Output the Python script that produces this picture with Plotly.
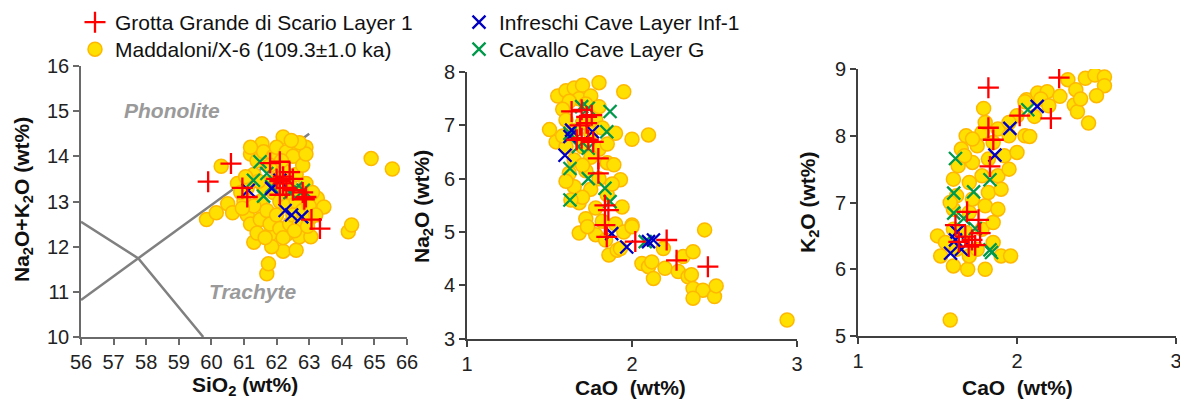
import plotly.graph_objects as go

# ---------------- Panel 1: TAS (SiO2 vs Na2O+K2O) ----------------
p1_mad_sio2 = [59.85, 60.15, 60.5, 60.65, 60.3, 60.8, 61.3, 61.7, 61.75, 62.2, 62.6, 61.8, 62.3, 62.7, 63.05,
               63.25, 63.45, 64.2, 64.3, 64.9, 65.55, 62.2, 61.55, 62.9, 62.6, 61.2,
               61.0, 61.1, 61.2, 61.3, 61.4, 61.5, 61.5, 61.6, 61.7, 61.7, 61.8, 61.9, 61.9, 62.0, 62.0,
               62.1, 62.1, 62.2, 62.3, 62.3, 62.4, 62.4, 62.5, 62.5, 62.6, 62.6, 62.7, 62.8, 62.8, 62.9,
               63.0, 63.0, 63.1, 62.9, 61.3, 61.4, 61.6, 61.8, 62.0, 62.2, 62.7, 61.2, 62.45, 61.85,
               62.55, 61.45, 62.95, 63.2, 61.1, 62.15, 61.65, 62.35, 62.75, 60.95, 61.05, 60.9]
p1_mad_tot = [12.6, 12.75, 12.95, 12.75, 13.78, 13.4, 12.1, 11.4, 11.62, 11.9, 11.92, 12.27, 12.27, 12.22, 12.22,
              13.07, 12.88, 12.33, 12.48, 13.95, 13.72, 14.43, 14.28, 14.2, 14.1, 14.05,
              13.0, 12.7, 12.5, 13.6, 13.9, 13.0, 12.6, 14.1, 13.4, 12.8, 12.5, 14.0, 13.2, 12.7, 14.2,
              13.0, 12.4, 13.7, 14.1, 12.9, 12.5, 13.4, 14.0, 12.7, 13.6, 13.0, 12.5, 13.8, 12.8, 13.4,
              12.9, 12.6, 13.2, 14.05, 12.9, 12.3, 13.3, 13.8, 13.5, 12.2, 14.3, 14.2, 14.35, 12.0,
              12.35, 13.45, 12.45, 12.7, 13.3, 13.9, 12.2, 13.2, 13.2, 12.85, 13.55, 13.2]
p1_ggs_sio2 = [59.9, 60.6, 60.95, 61.1, 61.8, 62.1, 62.0, 62.1, 62.2, 62.4, 62.5, 62.3, 62.1, 62.8, 62.85,
               62.9, 63.07, 63.33, 62.5, 62.2]
p1_ggs_tot = [13.44, 13.84, 13.3, 13.1, 13.85, 13.88, 13.5, 13.45, 13.4, 13.65, 13.5, 13.3, 13.15, 13.2, 13.05,
              13.1, 12.6, 12.4, 13.25, 13.55]
p1_inf_sio2 = [61.13, 61.85, 62.26, 62.46, 62.77, 62.1]
p1_inf_tot = [13.25, 13.29, 12.8, 12.7, 12.66, 13.47]
p1_cav_sio2 = [61.49, 61.29, 61.6, 61.85, 61.7, 62.41, 62.6, 62.82]
p1_cav_tot = [13.88, 13.47, 13.12, 13.33, 13.62, 13.2, 13.29, 13.25]

# TAS field boundaries
tas_a_sio2 = [56.0, 63.0]
tas_a_tot = [10.82, 14.5]
tas_b_sio2 = [56.0, 57.76, 59.75]
tas_b_tot = [12.55, 11.74, 10.0]

# ---------------- Panel 2: CaO vs Na2O ----------------
p2_mad_cao = [1.55, 1.6, 1.65, 1.7, 1.8, 1.95, 1.68, 1.75, 1.62, 1.72, 1.58, 1.8, 1.5, 1.54, 2.0, 2.1,
              1.6, 1.7, 1.78, 1.65, 1.75, 1.82, 1.6, 1.7, 1.8, 1.65, 1.75, 1.85, 1.62, 1.72, 1.8, 1.89,
              1.93, 1.65, 1.75, 1.85, 1.68, 1.78, 1.94, 1.72, 1.82, 1.9, 2.0, 1.68, 1.78, 1.86, 1.91,
              1.95, 2.0, 1.93, 2.06, 2.1, 2.12, 2.13, 2.19, 2.2, 2.28, 2.31, 2.34, 2.37, 2.36, 2.44,
              2.37, 2.43, 2.5, 2.51, 2.37, 2.94, 1.7, 1.6, 1.7, 1.88, 1.84, 1.73, 1.63, 1.58, 1.85, 1.9]
p2_mad_na2o = [7.55, 7.65, 7.7, 7.75, 7.8, 7.63, 7.5, 7.55, 7.45, 7.4, 7.3, 7.35, 6.92, 6.69, 6.74, 6.82,
               7.1, 7.05, 7.1, 6.9, 6.85, 6.95, 6.6, 6.6, 6.55, 6.35, 6.4, 6.3, 6.1, 6.15, 6.0, 6.26,
               5.98, 5.85, 5.8, 5.7, 5.55, 5.45, 5.47, 5.25, 5.2, 5.15, 5.13, 4.98, 4.95, 4.57, 4.66,
               5.0, 5.1, 4.69, 4.41, 4.35, 4.44, 4.13, 4.69, 4.32, 4.26, 4.54, 4.16, 4.63, 4.2, 5.04,
               3.94, 3.91, 3.79, 3.99, 3.76, 3.35, 6.25, 5.95, 5.65, 5.9, 4.85, 5.1, 5.6, 6.8, 6.65, 6.85]
p2_ggs_cao = [1.634, 1.695, 1.725, 1.756, 1.685, 1.725, 1.695, 1.735, 1.765, 1.665, 1.796, 1.796, 1.836,
              1.857, 1.836, 1.847, 2.02, 2.21, 2.27, 2.46]
p2_ggs_na2o = [7.26, 7.29, 7.16, 7.19, 7.0, 7.04, 6.76, 6.73, 6.69, 6.73, 6.38, 6.1, 5.5, 5.41, 5.13, 4.91,
               4.82, 4.85, 4.47, 4.35]
p2_inf_cao = [1.634, 1.624, 1.594, 1.76, 1.877, 1.968, 2.1, 2.13]
p2_inf_na2o = [6.91, 6.79, 6.44, 6.88, 4.97, 4.72, 4.82, 4.85]
p2_cav_cao = [1.695, 1.735, 1.867, 1.624, 1.735, 1.847, 1.624, 1.735, 1.836, 1.867, 1.624, 1.675, 2.08]
p2_cav_na2o = [7.35, 7.32, 7.26, 6.85, 6.57, 6.88, 6.19, 6.0, 5.82, 5.57, 5.6, 6.6, 4.82]

# ---------------- Panel 3: CaO vs K2O ----------------
p3_mad_cao = [1.5, 1.52, 1.6, 1.69, 1.8, 1.58, 1.55, 1.62, 1.7, 1.75, 1.85, 1.9, 1.6, 1.68, 1.78, 1.85,
              1.6, 1.7, 1.8, 1.88, 1.62, 1.72, 1.82, 1.6, 1.7, 1.78, 1.88, 1.95, 1.63, 1.72, 1.82, 1.92,
              2.0, 1.65, 1.75, 1.85, 1.68, 1.78, 1.88, 1.95, 1.72, 1.8, 1.79, 2.05, 2.06, 2.13, 2.19,
              2.27, 2.32, 2.37, 2.43, 2.49, 2.36, 2.38, 2.45, 2.08, 2.11, 2.05, 2.55, 2.55, 2.5, 2.4,
              2.15, 2.2, 2.0, 1.95, 1.9, 1.96, 1.67, 1.58]
p3_mad_k2o = [6.5, 6.2, 6.05, 6.0, 6.0, 5.24, 6.4, 6.3, 6.2, 6.3, 6.4, 6.2, 6.6, 6.55, 6.6, 6.7,
              6.9, 6.85, 6.95, 6.9, 7.1, 7.05, 7.15, 7.35, 7.3, 7.4, 7.4, 7.5, 7.55, 7.6, 7.65, 7.7,
              7.75, 7.8, 7.85, 7.9, 8.0, 8.05, 8.1, 8.0, 7.95, 8.2, 8.41, 8.0, 8.54, 8.64, 8.66,
              8.59, 8.84, 8.69, 8.86, 8.91, 8.46, 8.36, 8.19, 7.99, 8.29, 8.51, 8.88, 8.75, 8.6, 8.55,
              8.55, 8.45, 8.3, 8.2, 7.2, 6.2, 7.7, 7.0]
p3_ggs_cao = [1.82, 2.265, 2.213, 2.017, 1.82, 1.851, 1.83, 1.686, 1.758, 1.613, 1.675, 1.717, 1.634,
              1.696, 1.768, 1.737]
p3_ggs_k2o = [8.72, 8.87, 8.26, 8.3, 8.12, 7.94, 7.54, 6.86, 6.74, 6.66, 6.49, 6.44, 6.41, 6.34, 6.54, 6.36]
p3_inf_cao = [2.127, 1.955, 1.861, 1.582, 1.613, 1.623, 1.65]
p3_inf_k2o = [8.44, 8.11, 7.71, 6.24, 6.44, 6.56, 6.3]
p3_cav_cao = [1.613, 1.602, 1.727, 1.83, 2.068, 1.602, 1.665, 1.737, 1.83, 1.84]
p3_cav_k2o = [7.66, 7.14, 7.16, 7.34, 8.39, 6.84, 6.76, 6.61, 6.29, 6.25]

# ---------------- styling ----------------
FONT = "Arial, Liberation Sans, sans-serif"
YEL = dict(symbol="circle", size=14, color="#FFE000", line=dict(color="#FFB800", width=1.5))
RED = dict(symbol="cross-thin", size=15, color="#FF0000", line=dict(color="#FF0000", width=2.3))
BLUE = dict(symbol="x-thin", size=13, color="#0000C0", line=dict(color="#0000C0", width=2.3))
GREEN = dict(symbol="x-thin", size=13, color="#00994C", line=dict(color="#00994C", width=2.3))

NAMES = ["Maddaloni/X-6 (109.3±1.0 ka)", "Cavallo Cave Layer G",
         "Infreschi Cave Layer Inf-1", "Grotta Grande di Scario Layer 1"]
LEGENDS = ["legend2", "legend4", "legend3", "legend"]
STYLES = [YEL, GREEN, BLUE, RED]

# page offset (browser body margin) and figure size
OX, OY = 8, 8
W, H = 1180, 395

def fx(a, b):
    return [(a - OX) / W, (b - OX) / W]
def fy(top, bottom):
    return [1 - (bottom - OY) / H, 1 - (top - OY) / H]
def px(x):
    return (x - OX) / W
def py(y):
    return 1 - (y - OY) / H

fig = go.Figure()

# TAS lines
for xs, ys in [(tas_a_sio2, tas_a_tot), (tas_b_sio2, tas_b_tot)]:
    fig.add_trace(go.Scatter(x=xs, y=ys, mode="lines", line=dict(color="#808080", width=2.5),
                             showlegend=False, hoverinfo="skip", xaxis="x", yaxis="y"))

panels = [
    ("x", "y", [(p1_mad_sio2, p1_mad_tot), (p1_cav_sio2, p1_cav_tot), (p1_inf_sio2, p1_inf_tot), (p1_ggs_sio2, p1_ggs_tot)]),
    ("x2", "y2", [(p2_mad_cao, p2_mad_na2o), (p2_cav_cao, p2_cav_na2o), (p2_inf_cao, p2_inf_na2o), (p2_ggs_cao, p2_ggs_na2o)]),
    ("x3", "y3", [(p3_mad_cao, p3_mad_k2o), (p3_cav_cao, p3_cav_k2o), (p3_inf_cao, p3_inf_k2o), (p3_ggs_cao, p3_ggs_k2o)]),
]
for pi, (xa, ya, series) in enumerate(panels):
    for si, (xs, ys) in enumerate(series):
        fig.add_trace(go.Scatter(
            x=xs, y=ys, mode="markers", marker=STYLES[si], name=NAMES[si],
            showlegend=(pi == 0), legend=LEGENDS[si],
            xaxis=xa, yaxis=ya))

axis_common = dict(showline=True, linewidth=1.6, ticks="outside", ticklen=6, tickwidth=1.5,
                   showgrid=False, zeroline=False, tickfont=dict(family=FONT, size=20, color="#222"),
                   mirror=False, automargin=False)

def leg(x, y):
    return dict(x=px(x), y=py(y), xanchor="left", yanchor="top", bgcolor="rgba(0,0,0,0)",
                font=dict(family=FONT, size=21, color="#111"), tracegroupgap=0, itemwidth=30)

fig.update_layout(
    width=W, height=H, margin=dict(l=0, r=0, t=0, b=0, autoexpand=False),
    paper_bgcolor="white", plot_bgcolor="white",
    font=dict(family=FONT, color="#222"),
    xaxis=dict(domain=fx(81, 407), range=[56, 66], dtick=1, anchor="y", linecolor="#6a6a6a",
               tickcolor="#6a6a6a", **axis_common),
    yaxis=dict(domain=fy(66, 337), range=[10, 16], dtick=1, anchor="x", linecolor="#6a6a6a",
               tickcolor="#6a6a6a", **axis_common),
    xaxis2=dict(domain=fx(467, 797), range=[1, 3], dtick=1, anchor="y2", linecolor="#404040",
                tickcolor="#404040", **axis_common),
    yaxis2=dict(domain=fy(72, 338.7), range=[3, 8], dtick=1, anchor="x2", linecolor="#404040",
                tickcolor="#404040", **axis_common),
    xaxis3=dict(domain=fx(858, 1176), range=[1, 3], dtick=1, anchor="y3", linecolor="#404040",
                tickcolor="#404040", **axis_common),
    yaxis3=dict(domain=fy(69, 336), range=[5, 9], dtick=1, anchor="x3", linecolor="#404040",
                tickcolor="#404040", **axis_common),
    legend=leg(75, 2),
    legend2=leg(75, 29),
    legend3=leg(459, 2),
    legend4=leg(459, 29),
)

def ann(text, x, y, size=21, angle=0, color="#111"):
    fig.add_annotation(text="<b>" + text + "</b>", x=px(x), y=py(y), xref="paper", yref="paper",
                       showarrow=False, textangle=angle, xanchor="center", yanchor="middle",
                       font=dict(family=FONT, size=size, color=color))

# axis titles
ann("SiO<sub>2</sub> (wt%)", 245, 386)
ann("CaO\u00a0 (wt%)", 631, 387)
ann("CaO\u00a0 (wt%)", 1017, 387)
ann("Na<sub>2</sub>O+K<sub>2</sub>O (wt%)", 23, 200, angle=-90)
ann("Na<sub>2</sub>O (wt%)", 423, 207, angle=-90)
ann("K<sub>2</sub>O (wt%)", 809, 202, angle=-90)

# field labels (data coordinates)
fig.add_annotation(text="<b><i>Phonolite</i></b>", x=58.8, y=15.02, xref="x", yref="y", showarrow=False,
                   font=dict(family=FONT, size=21, color="#9a9a9a"))
fig.add_annotation(text="<b><i>Trachyte</i></b>", x=61.25, y=11.0, xref="x", yref="y", showarrow=False,
                   font=dict(family=FONT, size=21, color="#9a9a9a"))

fig.write_html("out.html")
